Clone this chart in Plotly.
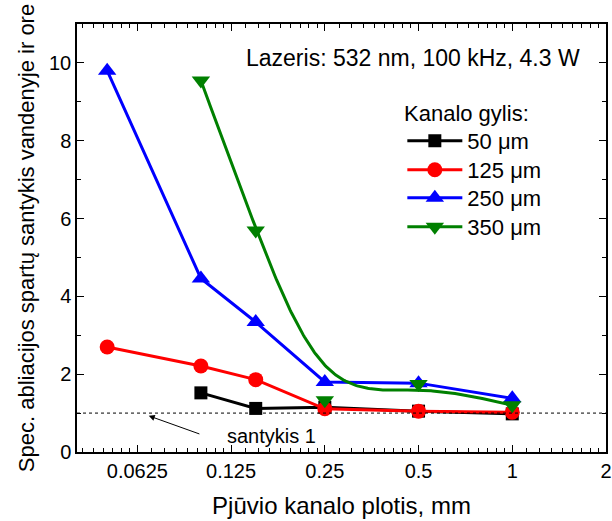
import numpy as np
import plotly.graph_objects as go

# ---- data ----
x_50 = [0.1, 0.15, 0.25, 0.5, 1.0]
y_50 = [1.52, 1.12, 1.15, 1.05, 0.98]
x_125 = [0.05, 0.1, 0.15, 0.25, 0.5, 1.0]
y_125 = [2.70, 2.21, 1.86, 1.11, 1.05, 1.02]
x_250 = [0.05, 0.1, 0.15, 0.25, 0.5, 1.0]
y_250 = [9.80, 4.46, 3.34, 1.80, 1.77, 1.38]
x_350 = [0.1, 0.15, 0.25, 0.5, 1.0]
y_350 = [9.55, 5.69, 1.33, 1.75, 1.20]
names = ["50 μm", "125 μm", "250 μm", "350 μm"]
x_ticks = [0.0625, 0.125, 0.25, 0.5, 1, 2]
x_ticktext = ["0.0625", "0.125", "0.25", "0.5", "1", "2"]
y_ticks = [0, 2, 4, 6, 8, 10]
ref_ratio = 1.0

FONT = "Liberation Sans, Arial, sans-serif"


def bspline(xs, ys, n_per_seg=60):
    """uniform cubic B-spline with the data points as control points
    (end points tripled so the curve starts/ends on them), in log-x space"""
    P = np.column_stack([np.log10(xs), ys])
    Q = np.vstack([P[:1], P[:1], P, P[-1:], P[-1:]])
    M = np.array([[-1, 3, -3, 1], [3, -6, 3, 0], [-3, 0, 3, 0], [1, 4, 1, 0]]) / 6.0
    pts = []
    for i in range(len(Q) - 3):
        G = Q[i:i + 4]
        for t in np.linspace(0, 1, n_per_seg, endpoint=False):
            T = np.array([t ** 3, t ** 2, t, 1.0])
            pts.append(T @ M @ G)
    pts.append(Q[-1])
    pts = np.array(pts)
    return 10 ** pts[:, 0], pts[:, 1]


def isolated(vals):
    """insert gaps so markers are not joined by straight lines"""
    res = []
    for v in vals:
        res += [v, None]
    return res[:-1]


fig = go.Figure()

fig.add_trace(go.Scatter(x=x_50, y=y_50, name=names[0], mode="lines+markers", legend="legend",
                         line=dict(color="black", width=3),
                         marker=dict(symbol="square", size=13, color="black")))
fig.add_trace(go.Scatter(x=x_125, y=y_125, name=names[1], mode="lines+markers", legend="legend2",
                         line=dict(color="#ff0000", width=3),
                         marker=dict(symbol="circle", size=15, color="#ff0000")))
fig.add_trace(go.Scatter(x=x_250, y=y_250, name=names[2], mode="lines+markers", legend="legend3",
                         line=dict(color="#0000ff", width=3),
                         marker=dict(symbol="triangle-up", size=16, color="#0000ff")))
cx, cy = bspline(x_350, y_350)
fig.add_trace(go.Scatter(x=cx, y=cy, mode="lines", showlegend=False,
                         line=dict(color="#008000", width=3), hoverinfo="skip"))
fig.add_trace(go.Scatter(x=isolated(x_350), y=isolated(y_350), name=names[3], legend="legend4",
                         mode="lines+markers", connectgaps=False,
                         line=dict(color="#008000", width=3),
                         marker=dict(symbol="triangle-down", size=16, color="#008000")))

# minor ticks for the log2 axis (8 per octave)
minor_x = []
for base in [0.03125, 0.0625, 0.125, 0.25, 0.5, 1.0]:
    for k in range(1, 9):
        v = base * (1 + k / 9)
        if 0.04 <= v <= 2:
            minor_x.append(v)

fig.update_xaxes(type="log", range=[np.log10(0.04), np.log10(2.0)], automargin=False,
                 tickvals=x_ticks, ticktext=x_ticktext,
                 ticks="inside", ticklen=7, tickwidth=1.3, tickcolor="black",
                 minor=dict(tickvals=minor_x, ticks="inside", ticklen=4, tickwidth=1, tickcolor="black"),
                 showline=True, linecolor="black", linewidth=1.5, mirror="allticks",
                 showgrid=False, zeroline=False,
                 tickfont=dict(family=FONT, size=20, color="black"),
                 title=dict(text="Pjūvio kanalo plotis, mm", font=dict(family=FONT, size=24, color="black"),
                            standoff=16))
fig.update_yaxes(range=[0, 11], automargin=False, tickvals=y_ticks,
                 ticks="inside", ticklen=7, tickwidth=1.3, tickcolor="black",
                 minor=dict(dtick=1, tick0=0, ticks="inside", ticklen=4, tickwidth=1, tickcolor="black"),
                 showline=True, linecolor="black", linewidth=1.5, mirror="allticks",
                 showgrid=False, zeroline=False,
                 tickfont=dict(family=FONT, size=20, color="black"),
                 title=dict(text="Spec. abliacijos spartų santykis vandenyje ir ore",
                            font=dict(family=FONT, size=22, color="black"), standoff=8))

fig.add_shape(type="line", xref="paper", yref="y", x0=0, x1=1, y0=ref_ratio, y1=ref_ratio,
              line=dict(color="black", width=1, dash="dot"))

fig.add_annotation(x=np.log10(0.068), y=0.93, ax=np.log10(0.1), ay=0.45,
                   xref="x", yref="y", axref="x", ayref="y", text="",
                   showarrow=True, arrowhead=2, arrowsize=1.2, arrowwidth=1, arrowcolor="black")
fig.add_annotation(x=np.log10(0.168), y=0.41, xref="x", yref="y", text="santykis 1",
                   showarrow=False, xanchor="center", yanchor="middle",
                   font=dict(family=FONT, size=20, color="black"))
fig.add_annotation(x=0.635, y=0.921, xref="paper", yref="paper",
                   text="Lazeris: 532 nm, 100 kHz, 4.3 W", showarrow=False,
                   xanchor="center", yanchor="middle",
                   font=dict(family=FONT, size=23, color="black"))
fig.add_annotation(x=0.614, y=0.792, xref="paper", yref="paper",
                   text="Kanalo gylis:", showarrow=False,
                   xanchor="left", yanchor="middle",
                   font=dict(family=FONT, size=22, color="black"))

leg_common = dict(x=0.615, xanchor="left", yanchor="middle",
                  bgcolor="rgba(0,0,0,0)", borderwidth=0, itemwidth=55,
                  font=dict(family=FONT, size=22, color="black"))
leg_y = [0.7266, 0.6589, 0.5935, 0.5257]

fig.update_layout(
    width=612, height=521,
    margin=dict(l=77, r=6, t=24, b=69),
    plot_bgcolor="white", paper_bgcolor="white",
    font=dict(family=FONT, color="black"),
    legend=dict(y=leg_y[0], **leg_common),
    legend2=dict(y=leg_y[1], **leg_common),
    legend3=dict(y=leg_y[2], **leg_common),
    legend4=dict(y=leg_y[3], **leg_common),
)

fig.write_html("out.html", config={"displayModeBar": False},
               post_script="document.body.style.margin='0px';document.body.style.overflow='hidden';")
